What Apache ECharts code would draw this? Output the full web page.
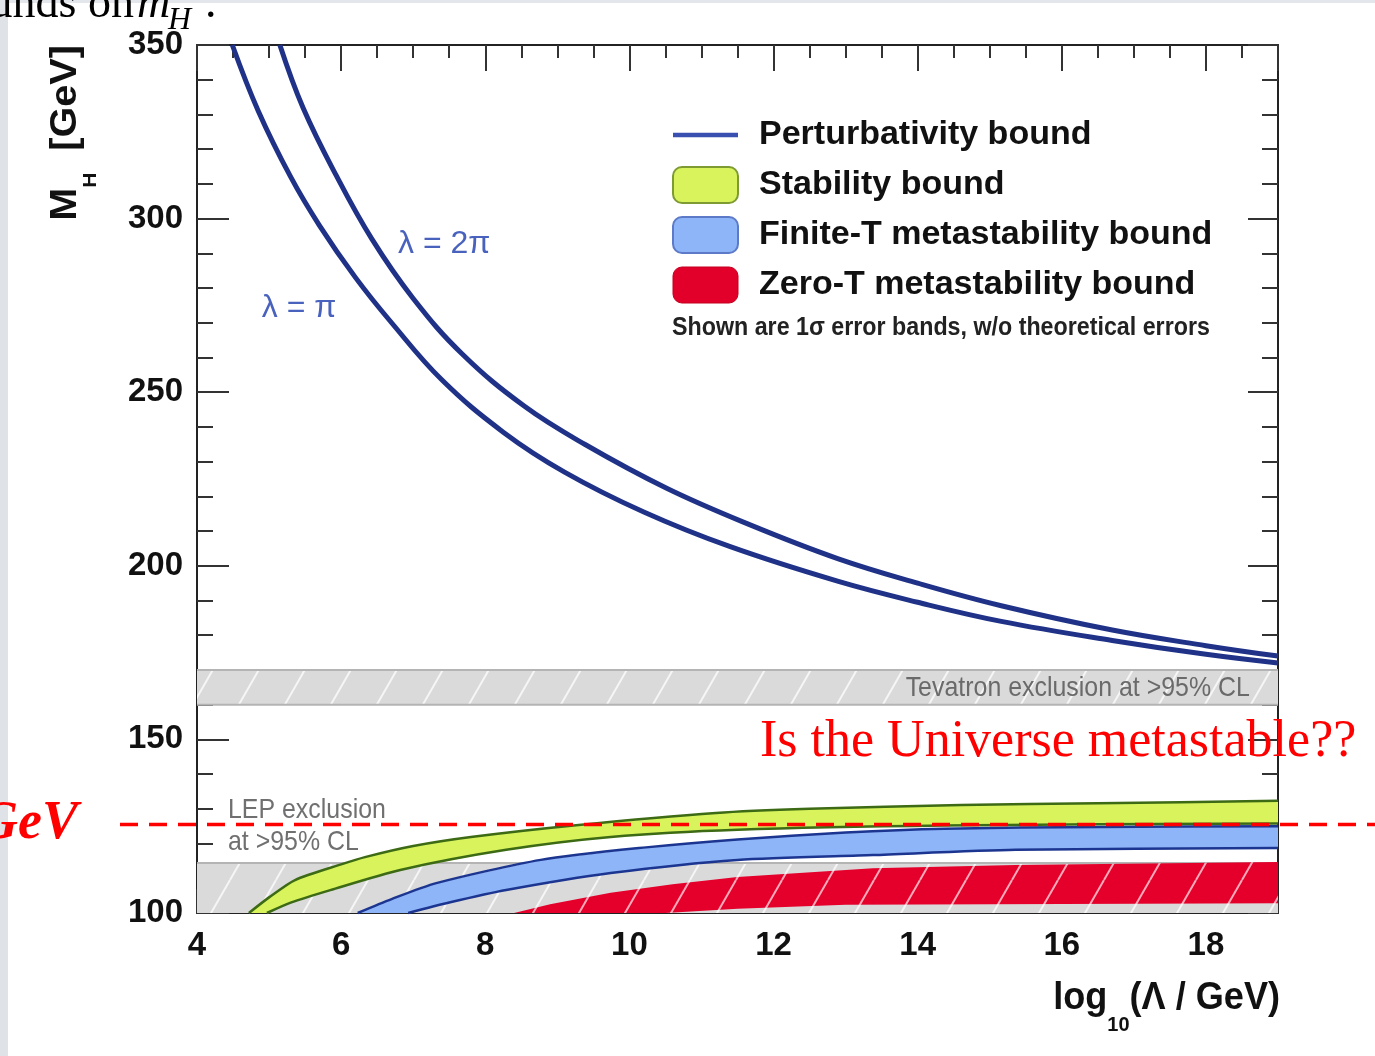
<!DOCTYPE html>
<html>
<head>
<meta charset="utf-8">
<script src="https://cdn.jsdelivr.net/npm/echarts@6/dist/echarts.min.js"></script>
<style>
html,body{margin:0;padding:0;background:#fff;overflow:hidden}
#c{width:1375px;height:1056px}
</style>
</head>
<body>
<div id="c"></div>
<script>
// ---------------- data ----------------
const xRange = [4, 19];
const yRange = [100, 350];
const legendNames = ['Perturbativity bound', 'Stability bound', 'Finite-T metastability bound', 'Zero-T metastability bound'];

// Perturbativity bounds  [log10(Lambda/GeV), M_H]
const perturbPi  = [[4.49,350],[4.85,331],[5.3,312],[5.7,298],[6.2,283],[6.7,270],[7.4,253.5],[8.25,238.5],[9.1,227],[10.2,215.5],[11.4,205.5],[12.9,195.5],[14.0,189.5],[15.16,184],[16.7,178.5],[18.0,174.5],[19,172]];
const perturb2Pi = [[5.15,350],[5.47,332],[5.93,312.5],[6.43,294],[7.0,277],[7.68,261],[8.54,246],[9.38,235],[10.51,222.4],[11.65,212],[12.9,202],[14.0,195],[15.16,188.5],[16.7,181.5],[18.0,177],[19,174]];

// Stability band
const stabUpper = [[4.72,100],[5.0,104.5],[5.36,109.5],[6.0,114],[6.33,116.1],[7.0,119.3],[7.8,121.9],[9.26,125.3],[11.2,128.8],[12.5,130],[14.6,131.1],[16.5,131.6],[19,132.3]];
const stabLower = [[4.97,100],[5.3,103],[5.85,106.6],[6.82,112.4],[8.29,118.2],[9.74,121.9],[11.5,124],[14.37,125.2],[19,125.8]];

// Finite-T metastability band
const finUpper = [[6.23,100],[6.7,104],[7.32,108.6],[8.77,115.3],[10.23,118.9],[11.5,121.2],[13,123.2],[14.37,124.3],[16.5,124.8],[19,125]];
const finLower = [[6.93,100],[7.5,103],[8.29,106.6],[9.74,111.5],[11.5,115.3],[13.38,116.7],[15.36,118.2],[19,118.7]];

// Zero-T metastability band
const zeroUpper = [[8.4,100],[8.9,102.5],[9.74,105.8],[10.6,108.3],[11.5,110.4],[13.38,112.9],[15.36,113.8],[19,114.7]];
const zeroLower = [[8.4,100],[10.5,100],[11.5,101.2],[13,102.4],[19,102.8]];

// Experimental exclusions  [min, max] of M_H
const tevatronBand = [160, 170];
const lepBand = [100, 114.4];

// Annotation texts
const lambdaTexts = ['λ = 2π', 'λ = π'];
const lambdaAnchors = [[6.79, 292.7], [4.9, 274.3]];
const tevatronText = 'Tevatron exclusion at >95% CL';
const tevatronAnchor = [18.61, 164.8];
const lepTexts = ['LEP exclusion', 'at >95% CL'];
const lepAnchors = [[4.43, 129.7], [4.43, 120.5]];
const higgsMass = 125.5;

// ---------------- styles ----------------
const SANS = "'Liberation Sans',Arial,sans-serif";
const SERIF = "'Liberation Serif','Times New Roman',serif";

function hatch(bg, line, width) {
  const W = 46, H = 80;
  const c = document.createElement('canvas');
  c.width = W; c.height = H;
  const ctx = c.getContext('2d');
  ctx.fillStyle = bg; ctx.fillRect(0, 0, W, H);
  ctx.strokeStyle = line; ctx.lineWidth = width;
  [[-W, 0], [0, 0], [W, 0]].forEach(function (o) {
    ctx.beginPath(); ctx.moveTo(o[0], H); ctx.lineTo(o[0] + W, 0); ctx.stroke();
  });
  return { image: c, repeat: 'repeat' };
}
const grayHatch = hatch('#dadada', 'rgba(255,255,255,0.75)', 2);
const redHatch = hatch('#e4002b', 'rgba(255,200,210,0.85)', 2);

function bandSeries(name, upper, lower, fill, edge, edgeWidth, z) {
  return {
    type: 'custom', name: name, z: z, silent: true,
    data: [[upper[0][0], upper[0][1]]], encode: { x: 0, y: 1 },
    renderItem: function (params, api) {
      const up = upper.map(function (p) { return api.coord(p); });
      const lo = lower.map(function (p) { return api.coord(p); });
      const children = [{
        type: 'polygon',
        shape: { points: up.concat(lo.slice().reverse()) },
        style: { fill: fill, lineWidth: 0 }
      }];
      if (edge) {
        children.push({ type: 'polyline', shape: { points: up, smooth: 0.25 }, style: { stroke: edge, lineWidth: edgeWidth, fill: null } });
        children.push({ type: 'polyline', shape: { points: lo, smooth: 0.25 }, style: { stroke: edge, lineWidth: edgeWidth, fill: null } });
      }
      return { type: 'group', children: children };
    }
  };
}

function exclusionSeries(name, band, z, textFn) {
  return {
    type: 'custom', name: name, z: z, silent: true,
    data: [[xRange[0], band[0]]], encode: { x: 0, y: 1 },
    renderItem: function (params, api) {
      const p0 = api.coord([xRange[0], band[1]]);
      const p1 = api.coord([xRange[1], band[0]]);
      const children = [
        { type: 'rect', shape: { x: p0[0], y: p0[1], width: p1[0] - p0[0], height: p1[1] - p0[1] }, style: { fill: grayHatch } },
        { type: 'line', shape: { x1: p0[0], y1: p0[1], x2: p1[0], y2: p0[1] }, style: { stroke: '#b4b4b4', lineWidth: 2 } }
      ];
      if (band[0] > yRange[0]) {
        children.push({ type: 'line', shape: { x1: p0[0], y1: p1[1], x2: p1[0], y2: p1[1] }, style: { stroke: '#b4b4b4', lineWidth: 2 } });
      }
      textFn(api).forEach(function (t) { children.push(t); });
      return { type: 'group', children: children };
    }
  };
}

const tickFont = { fontSize: 33, fontWeight: 'bold', color: '#111', fontFamily: SANS };

const option = {
  backgroundColor: '#ffffff',
  animation: false,
  grid: { left: 197, right: 97, top: 45, bottom: 143 },
  xAxis: [
    { type: 'value', min: xRange[0], max: xRange[1], interval: 2, position: 'bottom',
      axisLine: { onZero: false, lineStyle: { color: '#222', width: 2 } },
      axisTick: { inside: true, length: 24, lineStyle: { color: '#333', width: 2 } },
      axisLabel: Object.assign({ margin: 16, showMaxLabel: false }, tickFont),
      splitLine: { show: false } },
    { type: 'value', min: xRange[0], max: xRange[1], interval: 0.5, position: 'bottom',
      axisLine: { show: false, onZero: false },
      axisTick: { inside: true, length: 13, lineStyle: { color: '#333', width: 2 } },
      axisLabel: { show: false }, splitLine: { show: false } },
    { type: 'value', min: xRange[0], max: xRange[1], interval: 2, position: 'top',
      axisLine: { onZero: false, lineStyle: { color: '#222', width: 2 } },
      axisTick: { inside: true, length: 26, lineStyle: { color: '#333', width: 2 } },
      axisLabel: { show: false }, splitLine: { show: false } },
    { type: 'value', min: xRange[0], max: xRange[1], interval: 0.5, position: 'top',
      axisLine: { show: false, onZero: false },
      axisTick: { inside: true, length: 13, lineStyle: { color: '#333', width: 2 } },
      axisLabel: { show: false }, splitLine: { show: false } }
  ],
  yAxis: [
    { type: 'value', min: yRange[0], max: yRange[1], interval: 50, position: 'left',
      axisLine: { show: true, onZero: false, lineStyle: { color: '#222', width: 2 } },
      axisTick: { inside: true, length: 32, lineStyle: { color: '#333', width: 2 } },
      minorTick: { show: true, splitNumber: 5, length: 16, lineStyle: { color: '#333', width: 2 } },
      axisLabel: Object.assign({ margin: 14, padding: [8, 0, 0, 0] }, tickFont),
      splitLine: { show: false }, minorSplitLine: { show: false } },
    { type: 'value', min: yRange[0], max: yRange[1], interval: 50, position: 'right',
      axisLine: { show: true, onZero: false, lineStyle: { color: '#222', width: 2 } },
      axisTick: { inside: true, length: 30, lineStyle: { color: '#333', width: 2 } },
      minorTick: { show: true, splitNumber: 5, length: 16, lineStyle: { color: '#333', width: 2 } },
      axisLabel: { show: false },
      splitLine: { show: false }, minorSplitLine: { show: false } }
  ],
  legend: {
    orient: 'vertical', left: 667, top: 110,
    itemWidth: 65, itemHeight: 36, itemGap: 10,
    selectedMode: false,
    textStyle: { fontSize: 34, fontWeight: 'bold', color: '#111', fontFamily: SANS, lineHeight: 40, padding: [0, 0, 0, 16] },
    data: [
      { name: legendNames[0], icon: 'path://M0,0H100V7H0Z', itemStyle: { color: '#3a50b0' } },
      { name: legendNames[1], icon: 'roundRect', itemStyle: { color: '#d8f35c', borderColor: '#7e9a32', borderWidth: 2 } },
      { name: legendNames[2], icon: 'roundRect', itemStyle: { color: '#8db5f7', borderColor: '#5c7ac8', borderWidth: 2 } },
      { name: legendNames[3], icon: 'roundRect', itemStyle: { color: '#e2002a', borderColor: '#c40020', borderWidth: 1 } }
    ]
  },
  series: [
    exclusionSeries('LEP', lepBand, 1, function (api) {
      return lepTexts.map(function (t, i) {
        const p = api.coord(lepAnchors[i]);
        return { type: 'text', x: p[0], y: p[1], scaleX: 0.89, style: { text: t, fill: '#707070', fontSize: 28, fontFamily: SANS, align: 'left', verticalAlign: 'middle' } };
      });
    }),
    exclusionSeries('Tevatron', tevatronBand, 1, function (api) {
      const p = api.coord(tevatronAnchor);
      return [{ type: 'text', x: p[0], y: p[1], scaleX: 0.89, style: { text: tevatronText, fill: '#6a6a6a', fontSize: 28, fontFamily: SANS, align: 'right', verticalAlign: 'middle' } }];
    }),
    bandSeries(legendNames[3], zeroUpper, zeroLower, redHatch, null, 0, 2),
    bandSeries(legendNames[2], finUpper, finLower, '#8db5f7', '#1c3590', 2.5, 3),
    bandSeries(legendNames[1], stabUpper, stabLower, '#d8f35c', '#3d6a14', 2.5, 4),
    { type: 'line', name: legendNames[0], data: perturbPi, smooth: 0.4, symbol: 'none', z: 5,
      lineStyle: { color: '#1f3288', width: 5 }, itemStyle: { color: '#3a50b0' } },
    { type: 'line', name: legendNames[0], data: perturb2Pi, smooth: 0.4, symbol: 'none', z: 5,
      lineStyle: { color: '#1f3288', width: 5 }, itemStyle: { color: '#3a50b0' } },
    { type: 'custom', name: 'lambda labels', z: 6, silent: true,
      data: lambdaAnchors, encode: { x: 0, y: 1 },
      renderItem: function (params, api) {
        const p = api.coord([api.value(0), api.value(1)]);
        return { type: 'text', x: p[0], y: p[1], style: { text: lambdaTexts[params.dataIndex], fill: '#4862bd', fontSize: 32, fontFamily: SANS, align: 'left', verticalAlign: 'middle' } };
      } }
  ]
};

function buildGraphics(yDash) {
  const g = [
    { id: 'stripTop', type: 'rect', z: 0, shape: { x: 0, y: 0, width: 1375, height: 3 }, style: { fill: '#e3e6ea' } },
    { id: 'stripLeft', type: 'rect', z: 0, shape: { x: 0, y: 0, width: 8, height: 1056 }, style: { fill: '#dfe2e7' } },
    { id: 'topText1', type: 'text', z: 10, x: 134, y: 5,
      style: { text: 'bounds on', fill: '#000', fontSize: 46, fontFamily: SERIF, align: 'right', verticalAlign: 'middle' } },
    { id: 'topText2', type: 'text', z: 10, x: 137, y: 5,
      style: { text: 'm', fill: '#000', fontSize: 46, fontStyle: 'italic', fontFamily: SERIF, align: 'left', verticalAlign: 'middle' } },
    { id: 'topText3', type: 'text', z: 10, x: 168, y: 21,
      style: { text: 'H', fill: '#000', fontSize: 32, fontStyle: 'italic', fontFamily: SERIF, align: 'left', verticalAlign: 'middle' } },
    { id: 'topText4', type: 'text', z: 10, x: 205, y: 5,
      style: { text: '.', fill: '#000', fontSize: 46, fontFamily: SERIF, align: 'left', verticalAlign: 'middle' } },
    { id: 'yTitle', type: 'text', z: 10, x: 74, y: 133, rotation: Math.PI / 2, scaleX: 1.1,
      style: { text: '{b|M}{s|H}{b|  [GeV]}', align: 'center', verticalAlign: 'middle',
        rich: { b: { fontSize: 36, fontWeight: 'bold', fill: '#111', fontFamily: SANS, lineHeight: 52, verticalAlign: 'top' },
                s: { fontSize: 19, fontWeight: 'bold', fill: '#111', fontFamily: SANS, lineHeight: 52, verticalAlign: 'bottom' } } } },
    { id: 'xTitle', type: 'text', z: 10, x: 1280, y: 1008, scaleX: 0.95,
      style: { text: '{b|log}{s|10}{b|(Λ / GeV)}', align: 'right', verticalAlign: 'middle',
        rich: { b: { fontSize: 38, fontWeight: 'bold', fill: '#111', fontFamily: SANS, lineHeight: 56, verticalAlign: 'top' },
                s: { fontSize: 21, fontWeight: 'bold', fill: '#111', fontFamily: SANS, lineHeight: 56, verticalAlign: 'bottom' } } } },
    { id: 'caption', type: 'text', z: 10, x: 672, y: 328, scaleX: 0.93,
      style: { text: 'Shown are 1σ error bands, w/o theoretical errors', fill: '#222', fontSize: 25, fontWeight: 'bold', fontFamily: SANS, align: 'left', verticalAlign: 'middle' } },
    { id: 'question', type: 'text', z: 20, x: 760, y: 742,
      style: { text: 'Is the Universe metastable??', fill: '#ff0000', fontSize: 52, fontFamily: SERIF, align: 'left', verticalAlign: 'middle' } },
    { id: 'gev', type: 'text', z: 20, x: 78, y: 824,
      style: { text: 'GeV', fill: '#ff0000', fontSize: 54, fontWeight: 'bold', fontStyle: 'italic', fontFamily: SERIF, align: 'right', verticalAlign: 'middle' } }
  ];
  if (yDash != null) {
    g.push({ id: 'dash', type: 'line', z: 30, shape: { x1: 120, y1: yDash, x2: 1375, y2: yDash },
      style: { stroke: '#ff0000', lineWidth: 3.5, lineDash: [18, 11] } });
  }
  return g;
}

const chart = echarts.init(document.getElementById('c'), null, { renderer: 'canvas' });
option.graphic = buildGraphics(null);
chart.setOption(option);
const yDash = chart.convertToPixel({ yAxisIndex: 0 }, higgsMass);
chart.setOption({ graphic: buildGraphics(yDash) });
</script>
</body>
</html>
